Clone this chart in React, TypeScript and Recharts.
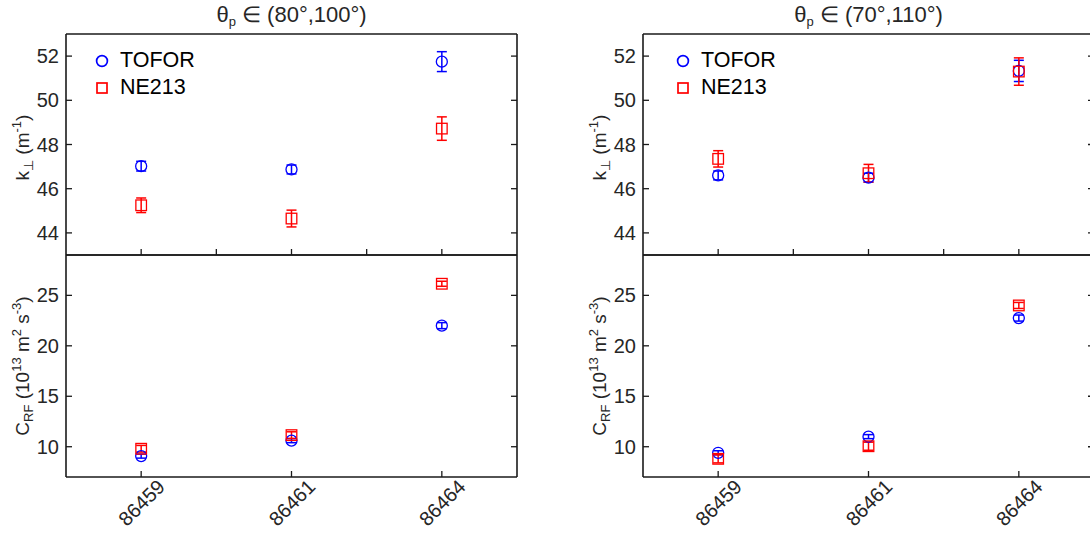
import React from 'react';
import { ScatterChart, Scatter, XAxis, YAxis, ErrorBar, Legend } from 'recharts';

// ---------- data ----------
const shots = ['86459', '86461', '86464'];
const shotPos = [1, 2, 3];
const xTicksAll = [1, 1.5, 2, 2.5, 3];

const kTicks = [44, 46, 48, 50, 52];
const cTicks = [10, 15, 20, 25];

// θp ∈ (80°,100°)
const kTOFOR_A = [47.02, 46.87, 51.75];
const kTOFOR_A_err = [0.22, 0.2, 0.45];
const kNE213_A = [45.25, 44.65, 48.72];
const kNE213_A_err = [0.33, 0.38, 0.53];
const cTOFOR_A = [9.07, 10.6, 22.0];
const cTOFOR_A_err = [0.2, 0.2, 0.3];
const cNE213_A = [9.8, 11.15, 26.15];
const cNE213_A_err = [0.33, 0.33, 0.25];

// θp ∈ (70°,110°)
const kTOFOR_B = [46.6, 46.5, 51.33];
const kTOFOR_B_err = [0.2, 0.2, 0.48];
const kNE213_B = [47.35, 46.7, 51.3];
const kNE213_B_err = [0.37, 0.4, 0.62];
const cTOFOR_B = [9.4, 11.0, 22.75];
const cTOFOR_B_err = [0.2, 0.2, 0.3];
const cNE213_B = [8.8, 10.05, 24.0];
const cNE213_B_err = [0.4, 0.4, 0.3];

const seriesNames = ['TOFOR', 'NE213'];

// ---------- style ----------
const FONT = '"Liberation Sans", Arial, Helvetica, sans-serif';
const INK = '#262626';
const BLUE = '#0000ff';
const RED = '#ff0000';
const BOX = '#1a1a1a';
const TICK_FS = 20;

const toPoints = (vals: number[], errs: number[]) =>
  vals.map((v, i) => ({ x: shotPos[i], y: v, err: errs[i] }));

const circleShape = (color: string) => (p: any) => (
  <circle cx={p.cx} cy={p.cy} r={5.5} fill="none" stroke={color} strokeWidth={1.3} />
);
const squareShape = (color: string) => (p: any) => (
  <rect x={p.cx - 5.3} y={p.cy - 5.3} width={10.6} height={10.6} fill="none" stroke={color} strokeWidth={1.3} />
);

const emptyTick = () => <g />;

const ShotTick = (props: any) => {
  const { x, y, payload } = props;
  const idx = shotPos.indexOf(payload.value);
  const px = x + 25;
  const py = y;
  return (
    <text
      x={px}
      y={py}
      transform={`rotate(-45, ${px}, ${py})`}
      textAnchor="end"
      fontSize={TICK_FS}
      fontFamily={FONT}
      fill={INK}
    >
      {idx >= 0 ? shots[idx] : ''}
    </text>
  );
};

const TitleLabel = (rest: string) => (props: any) => {
  const vb = props.viewBox || { x: 0, y: 0, width: 0, height: 0 };
  const cx = vb.x + vb.width / 2;
  const y = vb.y + (vb.height || 0) - 12;
  return (
    <text x={cx} y={y} textAnchor="middle" fontSize={22} fontFamily={FONT} fill={INK}>
      θ
      <tspan fontSize={13} dy={4}>p</tspan>
      <tspan dy={-4}>{' ∈ ' + rest}</tspan>
    </text>
  );
};

const KLabel = (props: any) => {
  const vb = props.viewBox || { x: 0, y: 0, width: 0, height: 0 };
  const x = vb.x + (vb.width || 0) - 37;
  const y = vb.y + vb.height / 2 + 3;
  return (
    <text transform={`translate(${x},${y}) rotate(-90)`} textAnchor="middle" fontSize={19} fontFamily={FONT} fill={INK}>
      k
      <tspan fontSize={13} dy={4}>⊥</tspan>
      <tspan dy={-4}> (m</tspan>
      <tspan fontSize={13} dy={-8}>-1</tspan>
      <tspan dy={8}>)</tspan>
    </text>
  );
};

const CLabel = (props: any) => {
  const vb = props.viewBox || { x: 0, y: 0, width: 0, height: 0 };
  const x = vb.x + (vb.width || 0) - 37;
  const y = vb.y + vb.height / 2;
  return (
    <text transform={`translate(${x},${y}) rotate(-90)`} textAnchor="middle" fontSize={19} fontFamily={FONT} fill={INK}>
      C
      <tspan fontSize={13} dy={4}>RF</tspan>
      <tspan dy={-4}> (10</tspan>
      <tspan fontSize={13} dy={-8}>13</tspan>
      <tspan dy={8}> m</tspan>
      <tspan fontSize={13} dy={-8}>2</tspan>
      <tspan dy={8}>  s</tspan>
      <tspan fontSize={13} dy={-8}>-3</tspan>
      <tspan dy={8}>)</tspan>
    </text>
  );
};

const LegendContent = (props: any) => {
  const payload = [...(props.payload || [])].sort(
    (a: any, b: any) => seriesNames.indexOf(a.value) - seriesNames.indexOf(b.value)
  );
  return (
    <div style={{ fontFamily: FONT, fontSize: 21.5, color: '#000', lineHeight: '27px' }}>
      {payload.map((e: any, i: number) => {
        const isCircle = seriesNames.indexOf(e.value) === 0;
        return (
          <div key={i} style={{ display: 'flex', alignItems: 'center', height: 27 }}>
            <svg width={14} height={14} style={{ display: 'block' }}>
              {isCircle ? (
                <circle cx={7} cy={7} r={5.4} fill="none" stroke={BLUE} strokeWidth={1.7} />
              ) : (
                <rect x={2} y={2} width={10} height={10} fill="none" stroke={RED} strokeWidth={1.7} />
              )}
            </svg>
            <span style={{ marginLeft: 11 }}>{e.value}</span>
          </div>
        );
      })}
    </div>
  );
};

type PanelProps = {
  left: number;
  top: number;
  width: number;
  height: number;
  margin: { top: number; left: number; right: number; bottom: number };
  tofor: { x: number; y: number; err: number }[];
  ne213: { x: number; y: number; err: number }[];
  yDomain: [number, number];
  yTicks: number[];
  upper: boolean;
  title?: string;
  legendLeft?: number;
};

const axisCommon = {
  axisLine: { stroke: BOX, strokeWidth: 1.6 },
  tickLine: { stroke: BOX, strokeWidth: 1.3 },
  tickSize: -6,
};

// plot box given in page coordinates; axes take 1px each so margins are reduced by 1
const Panel = (p: PanelProps) => (
  <div style={{ position: 'absolute', left: p.left, top: p.top }}>
    <ScatterChart
      width={p.width}
      height={p.height}
      margin={{
        top: p.margin.top - 1,
        left: p.margin.left - 1,
        right: p.margin.right - 1,
        bottom: p.margin.bottom - 1,
      }}
    >
      <XAxis
        xAxisId="b"
        dataKey="x"
        type="number"
        orientation="bottom"
        domain={[0.5, 3.5]}
        allowDataOverflow
        ticks={p.upper ? xTicksAll : shotPos}
        interval={0}
        height={1}
        tickMargin={17}
        tick={p.upper ? emptyTick : ShotTick}
        {...axisCommon}
      />
      <XAxis
        xAxisId="t"
        type="number"
        orientation="top"
        domain={[0.5, 3.5]}
        allowDataOverflow
        ticks={p.upper ? xTicksAll : shotPos}
        interval={0}
        height={1}
        tick={emptyTick}
        label={p.upper && p.title ? { content: TitleLabel(p.title) } : undefined}
        {...axisCommon}
      />
      <YAxis
        yAxisId="l"
        dataKey="y"
        type="number"
        orientation="left"
        domain={p.yDomain}
        allowDataOverflow
        ticks={p.yTicks}
        interval={0}
        width={1}
        tickMargin={13}
        tick={{ fontSize: TICK_FS, fill: INK, fontFamily: FONT }}
        label={{ content: p.upper ? KLabel : CLabel }}
        {...axisCommon}
      />
      <YAxis
        yAxisId="r"
        type="number"
        orientation="right"
        domain={p.yDomain}
        allowDataOverflow
        ticks={p.yTicks}
        interval={0}
        width={1}
        tick={emptyTick}
        {...axisCommon}
      />
      {p.upper && p.legendLeft !== undefined ? (
        <Legend
          layout="vertical"
          align="center"
          verticalAlign="middle"
          content={LegendContent}
          wrapperStyle={{ top: 47, left: p.legendLeft, width: 150, height: 60 }}
        />
      ) : null}
      <Scatter
        name={seriesNames[0]}
        data={p.tofor}
        xAxisId="b"
        yAxisId="l"
        fill={BLUE}
        legendType="circle"
        shape={circleShape(BLUE)}
        isAnimationActive={false}
      >
        <ErrorBar dataKey="err" direction="y" width={5} stroke={BLUE} strokeWidth={1.5} isAnimationActive={false} />
      </Scatter>
      <Scatter
        name={seriesNames[1]}
        data={p.ne213}
        xAxisId="b"
        yAxisId="l"
        fill={RED}
        legendType="square"
        shape={squareShape(RED)}
        isAnimationActive={false}
      >
        <ErrorBar dataKey="err" direction="y" width={5} stroke={RED} strokeWidth={1.5} isAnimationActive={false} />
      </Scatter>
    </ScatterChart>
  </div>
);

export default function App() {
  const kDomain: [number, number] = [43, 53];
  const cDomain: [number, number] = [7, 29];
  return (
    <div
      style={{
        position: 'absolute',
        left: 0,
        top: 0,
        width: 1090,
        height: 536,
        overflow: 'hidden',
        background: '#ffffff',
        fontFamily: FONT,
      }}
    >
      <Panel
        left={0}
        top={250}
        width={540}
        height={286}
        margin={{ top: 5, left: 66, right: 23, bottom: 59 }}
        tofor={toPoints(cTOFOR_A, cTOFOR_A_err)}
        ne213={toPoints(cNE213_A, cNE213_A_err)}
        yDomain={cDomain}
        yTicks={cTicks}
        upper={false}
      />
      <Panel
        left={550}
        top={250}
        width={560}
        height={286}
        margin={{ top: 5, left: 93, right: 16, bottom: 59 }}
        tofor={toPoints(cTOFOR_B, cTOFOR_B_err)}
        ne213={toPoints(cNE213_B, cNE213_B_err)}
        yDomain={cDomain}
        yTicks={cTicks}
        upper={false}
      />
      <Panel
        left={0}
        top={0}
        width={540}
        height={260}
        margin={{ top: 34, left: 66, right: 23, bottom: 5 }}
        tofor={toPoints(kTOFOR_A, kTOFOR_A_err)}
        ne213={toPoints(kNE213_A, kNE213_A_err)}
        yDomain={kDomain}
        yTicks={kTicks}
        upper={true}
        title="(80°,100°)"
        legendLeft={95}
      />
      <Panel
        left={550}
        top={0}
        width={560}
        height={260}
        margin={{ top: 34, left: 93, right: 16, bottom: 5 }}
        tofor={toPoints(kTOFOR_B, kTOFOR_B_err)}
        ne213={toPoints(kNE213_B, kNE213_B_err)}
        yDomain={kDomain}
        yTicks={kTicks}
        upper={true}
        title="(70°,110°)"
        legendLeft={126}
      />
    </div>
  );
}
